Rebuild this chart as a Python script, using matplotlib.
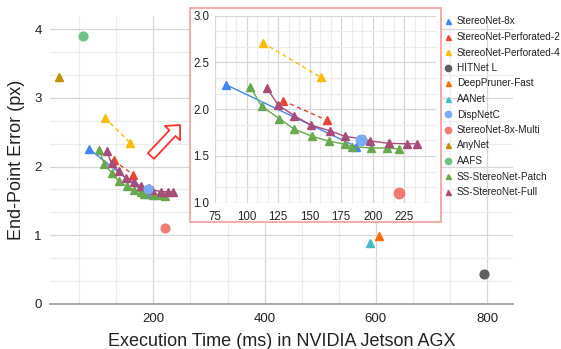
import numpy as np
import matplotlib
matplotlib.use('Agg')
import matplotlib.pyplot as plt
from matplotlib.lines import Line2D
from matplotlib.patches import Rectangle, FancyArrowPatch
from matplotlib.ticker import MultipleLocator

plt.rcParams['font.family'] = ['Liberation Sans', 'DejaVu Sans']

# ---- data: execution time (ms) / end-point error (px) ----
sn8x_t = [84, 187]
sn8x_e = [2.26, 1.60]
perf2_t = [129, 164]
perf2_e = [2.09, 1.88]
perf4_t = [113, 159]
perf4_e = [2.71, 2.34]
patch_t = [103, 112, 126, 138, 152, 165, 178, 184, 199, 211, 221]
patch_e = [2.24, 2.03, 1.90, 1.785, 1.71, 1.66, 1.625, 1.60, 1.585, 1.585, 1.575]
full_t = [116, 125, 138, 151, 166, 178, 193, 198, 213, 227, 235]
full_e = [2.23, 2.045, 1.93, 1.83, 1.77, 1.71, 1.68, 1.66, 1.635, 1.63, 1.63]

single_names = ["HITNet L", "DeepPruner-Fast", "AANet", "DispNetC",
                "StereoNet-8x-Multi", "AnyNet", "AAFS"]
single_t = [795, 605, 589, 191, 221, 30, 73]
single_e = [0.43, 0.99, 0.88, 1.67, 1.10, 3.31, 3.90]
single_mk = ['o', '^', '^', 'o', 'o', '^', 'o']
single_col = ['#5f5f5f', '#ff6d01', '#46bdc6', '#7baaf7', '#f07b72', '#bf9000', '#71c287']

C_BLUE = '#4285f4'
C_RED = '#ea4335'
C_YEL = '#fbbc04'
C_GRN = '#6aa84f'
C_PUR = '#a64d79'

legend_names = ["StereoNet-8x", "StereoNet-Perforated-2", "StereoNet-Perforated-4",
                "HITNet L", "DeepPruner-Fast", "AANet", "DispNetC",
                "StereoNet-8x-Multi", "AnyNet", "AAFS",
                "SS-StereoNet-Patch", "SS-StereoNet-Full"]
legend_cols = [C_BLUE, C_RED, C_YEL, '#5f5f5f', '#ff6d01', '#46bdc6', '#7baaf7',
               '#f07b72', '#bf9000', '#71c287', C_GRN, C_PUR]
legend_mk = ['^', '^', '^', 'o', '^', '^', 'o', 'o', '^', 'o', '^', '^']

W, H = 561, 349
fig = plt.figure(figsize=(W / 100, H / 100), dpi=100)


def draw_series(ax, ms_tri, ms_circ, lw):
    ax.plot(sn8x_t, sn8x_e, '-^', color=C_BLUE, ms=ms_tri, lw=lw, zorder=3)
    ax.plot(perf2_t, perf2_e, '--^', color=C_RED, ms=ms_tri, lw=lw, dashes=(3, 2.5), zorder=3)
    ax.plot(perf4_t, perf4_e, '--^', color=C_YEL, ms=ms_tri, lw=lw, dashes=(3, 2.5), zorder=3)
    ax.plot(patch_t, patch_e, '-^', color=C_GRN, ms=ms_tri, lw=lw, zorder=3)
    ax.plot(full_t, full_e, '-^', color=C_PUR, ms=ms_tri, lw=lw, zorder=3)
    for t, e, m, c in zip(single_t, single_e, single_mk, single_col):
        ax.plot([t], [e], m, color=c, ms=ms_circ if m == 'o' else ms_tri, zorder=4)


# ---- main axes ----
ax = fig.add_axes([50 / W, 1 - 303.7 / H, 463.4 / W, (303.7 - 15.6) / H])
ax.set_xlim(14.4, 847)
ax.set_ylim(0, 4.2)
ax.set_xticks([200, 400, 600, 800])
ax.set_yticks([0, 1, 2, 3, 4])
ax.xaxis.set_minor_locator(MultipleLocator(200 / 3))
ax.yaxis.set_minor_locator(MultipleLocator(1 / 3))
ax.grid(True, which='major', color='#d6d6d6', lw=0.9)
ax.grid(True, which='minor', color='#ececec', lw=0.9)
ax.set_axisbelow(True)
for s in ['top', 'right', 'left']:
    ax.spines[s].set_visible(False)
ax.spines['bottom'].set_color('#9a9a9a')
ax.spines['bottom'].set_linewidth(1.2)
ax.tick_params(which='both', length=0, labelsize=9.5, colors='#222222')
ax.tick_params(axis='x', pad=7)
ax.tick_params(axis='y', pad=6)
ax.set_xlabel("Execution Time (ms) in NVIDIA Jetson AGX", fontsize=13, color='#222222', labelpad=5.5)
ax.set_ylabel("End-Point Error (px)", fontsize=13, color='#222222', labelpad=6.5)
draw_series(ax, 5.3, 6.3, 1.0)

# ---- inset ----
ins = fig.add_axes([215 / W, 1 - 202.7 / H, 220.7 / W, 187 / H])
ins.set_xlim(75, 250)
ins.set_ylim(1.0, 3.0)
ins.set_xticks([75, 100, 125, 150, 175, 200, 225])
ins.set_yticks([1.0, 1.5, 2.0, 2.5, 3.0])
ins.set_yticklabels(['1.0', '1.5', '2.0', '2.5', '3.0'])
ins.xaxis.set_minor_locator(MultipleLocator(25 / 3))
ins.yaxis.set_minor_locator(MultipleLocator(0.5 / 3))
ins.grid(True, which='major', color='#d6d6d6', lw=0.9)
ins.grid(True, which='minor', color='#ececec', lw=0.9)
ins.set_axisbelow(True)
for s in ins.spines.values():
    s.set_visible(False)
ins.tick_params(which='both', length=0, labelsize=8.3, colors='#222222')
ins.tick_params(axis='x', pad=6)
ins.tick_params(axis='y', pad=4)
ins.add_patch(Rectangle((190 / W, 1 - 222 / H), 251 / W, 213.7 / H,
                        transform=fig.transFigure, facecolor='white',
                        edgecolor='#f4a3a3', lw=1.3, clip_on=False, zorder=0))
draw_series(ins, 5.8, 7.5, 1.0)

# ---- arrow ----
arrow = FancyArrowPatch((149 / W, 1 - 158 / H), (182 / W, 1 - 123 / H),
                        transform=fig.transFigure,
                        arrowstyle='simple,head_length=0.8,head_width=1.5,tail_width=0.6',
                        mutation_scale=10, facecolor='white', edgecolor='#ff3030', lw=1.3)
fig.patches.append(arrow)

# ---- legend ----
handles = [Line2D([], [], ls='none', marker=m, color=c, ms=3.6 if m == '^' else 4.5)
           for m, c in zip(legend_mk, legend_cols)]
fig.legend(handles, legend_names, loc='upper left', bbox_to_anchor=(444 / W, 1 - 16.5 / H),
           frameon=False, fontsize=7.2, handlelength=0.8, handletextpad=0.5,
           labelspacing=0.55, borderpad=0, borderaxespad=0, labelcolor='#222222')

fig.savefig('out.png', dpi=100)
